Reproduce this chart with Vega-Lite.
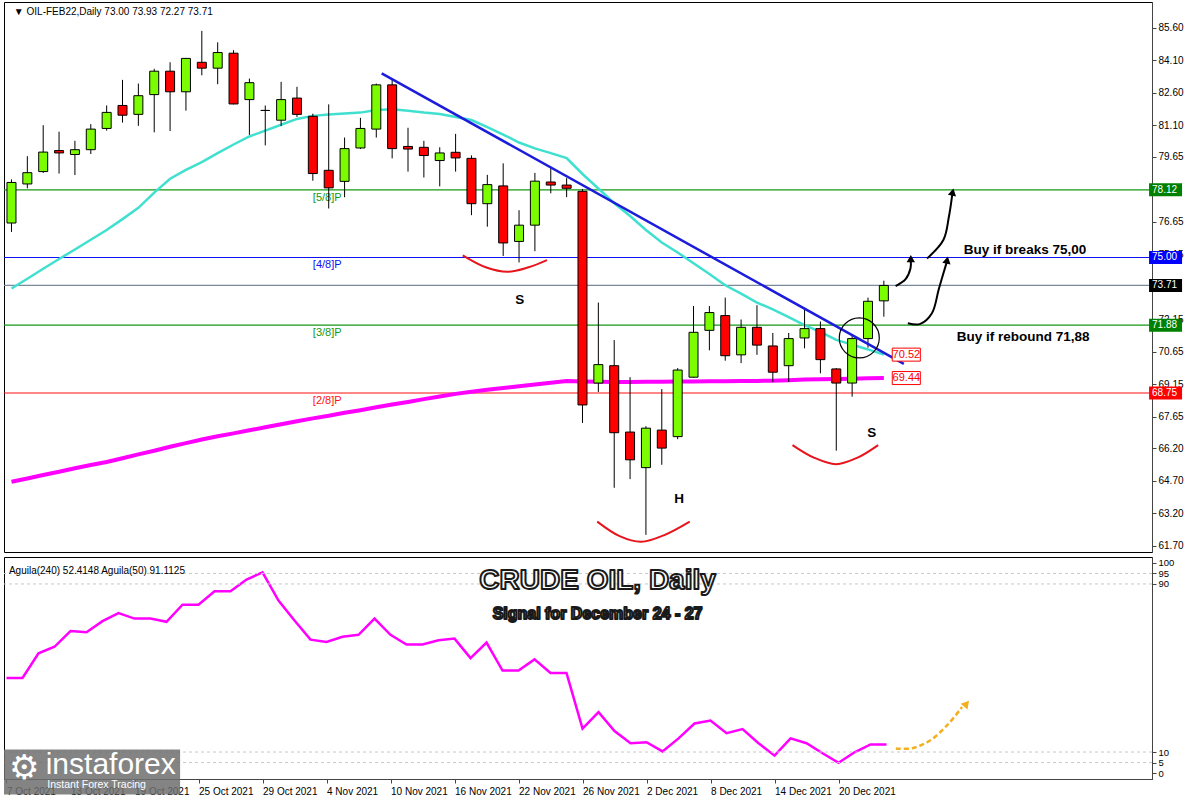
{
"$schema":"https://vega.github.io/schema/vega-lite/v6.json",
"background":"#ffffff",
"padding":{"left":0,"top":1,"right":0,"bottom":0},
"bounds":"flush",
"spacing":5,
"config":{"view":{"stroke":"#000000","strokeWidth":1},"axis":{"domainColor":"#444444","tickColor":"#444444","labelColor":"#000000","labelFont":"Liberation Sans","grid":false,"labelOverlap":false}},
"datasets":{
"c":[
{"n":0,"d":"2021-10-07","o":76.59,"h":78.6,"l":76.18,"c":78.46,"m21":73.57,"m200":64.66,"ag":45.3},
{"n":1,"d":"2021-10-08","o":78.39,"h":79.67,"l":78.19,"c":78.91,"m21":74.02,"m200":64.81,"ag":45.3},
{"n":2,"d":"2021-10-11","o":78.96,"h":81.1,"l":78.9,"c":79.86,"m21":74.48,"m200":64.97,"ag":57.0},
{"n":3,"d":"2021-10-12","o":79.93,"h":80.8,"l":78.87,"c":79.82,"m21":74.93,"m200":65.12,"ag":60.1},
{"n":4,"d":"2021-10-13","o":79.75,"h":80.38,"l":78.8,"c":79.97,"m21":75.37,"m200":65.28,"ag":67.6},
{"n":5,"d":"2021-10-14","o":79.97,"h":81.15,"l":79.77,"c":80.92,"m21":75.82,"m200":65.43,"ag":67.0},
{"n":6,"d":"2021-10-15","o":80.95,"h":82.01,"l":80.85,"c":81.69,"m21":76.27,"m200":65.57,"ag":72.3},
{"n":7,"d":"2021-10-18","o":82.01,"h":83.19,"l":81.22,"c":81.56,"m21":76.77,"m200":65.74,"ag":76.1},
{"n":8,"d":"2021-10-19","o":81.6,"h":83.02,"l":81.07,"c":82.46,"m21":77.29,"m200":65.92,"ag":73.5},
{"n":9,"d":"2021-10-20","o":82.51,"h":83.7,"l":80.77,"c":83.59,"m21":77.99,"m200":66.09,"ag":73.5},
{"n":10,"d":"2021-10-21","o":83.59,"h":84.0,"l":80.83,"c":82.64,"m21":78.63,"m200":66.27,"ag":72.0},
{"n":11,"d":"2021-10-22","o":82.64,"h":84.2,"l":81.77,"c":84.18,"m21":79.04,"m200":66.44,"ag":80.1},
{"n":12,"d":"2021-10-25","o":84.0,"h":85.45,"l":83.4,"c":83.73,"m21":79.4,"m200":66.61,"ag":80.1},
{"n":13,"d":"2021-10-26","o":83.73,"h":84.92,"l":82.99,"c":84.45,"m21":79.81,"m200":66.76,"ag":86.5},
{"n":14,"d":"2021-10-27","o":84.42,"h":84.56,"l":82.06,"c":82.08,"m21":80.21,"m200":66.89,"ag":86.5},
{"n":15,"d":"2021-10-28","o":82.28,"h":83.25,"l":80.65,"c":83.06,"m21":80.58,"m200":67.03,"ag":92.1},
{"n":16,"d":"2021-10-29","o":81.78,"h":82.01,"l":80.17,"c":81.78,"m21":80.85,"m200":67.17,"ag":95.5},
{"n":17,"d":"2021-11-01","o":81.33,"h":83.1,"l":81.06,"c":82.28,"m21":81.12,"m200":67.31,"ag":82.1},
{"n":18,"d":"2021-11-02","o":82.35,"h":82.87,"l":81.48,"c":81.6,"m21":81.39,"m200":67.45,"ag":72.6},
{"n":19,"d":"2021-11-03","o":81.51,"h":81.63,"l":78.54,"c":78.87,"m21":81.53,"m200":67.58,"ag":63.5},
{"n":20,"d":"2021-11-04","o":79.02,"h":82.06,"l":77.26,"c":78.21,"m21":81.59,"m200":67.7,"ag":62.4},
{"n":21,"d":"2021-11-05","o":78.51,"h":80.53,"l":77.78,"c":80.02,"m21":81.64,"m200":67.84,"ag":64.9},
{"n":22,"d":"2021-11-08","o":80.05,"h":81.44,"l":80.0,"c":80.95,"m21":81.68,"m200":67.96,"ag":65.8},
{"n":23,"d":"2021-11-09","o":80.92,"h":83.02,"l":80.53,"c":82.96,"m21":81.8,"m200":68.09,"ag":73.5},
{"n":24,"d":"2021-11-10","o":82.96,"h":83.25,"l":79.57,"c":80.02,"m21":81.83,"m200":68.22,"ag":65.8},
{"n":25,"d":"2021-11-11","o":80.12,"h":80.98,"l":78.96,"c":80.0,"m21":81.77,"m200":68.34,"ag":61.2},
{"n":26,"d":"2021-11-12","o":80.08,"h":80.38,"l":78.69,"c":79.7,"m21":81.68,"m200":68.47,"ag":61.2},
{"n":27,"d":"2021-11-15","o":79.47,"h":80.08,"l":78.28,"c":79.82,"m21":81.62,"m200":68.59,"ag":63.2},
{"n":28,"d":"2021-11-16","o":79.85,"h":80.7,"l":78.96,"c":79.59,"m21":81.48,"m200":68.71,"ag":64.0},
{"n":29,"d":"2021-11-17","o":79.57,"h":79.71,"l":76.95,"c":77.48,"m21":81.34,"m200":68.81,"ag":54.7},
{"n":30,"d":"2021-11-18","o":77.48,"h":78.81,"l":76.42,"c":78.36,"m21":81.01,"m200":68.9,"ag":62.1},
{"n":31,"d":"2021-11-19","o":78.3,"h":79.34,"l":75.07,"c":75.67,"m21":80.67,"m200":68.98,"ag":48.8},
{"n":32,"d":"2021-11-22","o":75.74,"h":77.18,"l":74.77,"c":76.49,"m21":80.3,"m200":69.06,"ag":48.8},
{"n":33,"d":"2021-11-23","o":76.49,"h":78.9,"l":75.29,"c":78.52,"m21":80.03,"m200":69.14,"ag":54.1},
{"n":34,"d":"2021-11-24","o":78.48,"h":79.19,"l":77.96,"c":78.34,"m21":79.81,"m200":69.22,"ag":47.6},
{"n":35,"d":"2021-11-25","o":78.34,"h":78.66,"l":77.78,"c":78.19,"m21":79.58,"m200":69.3,"ag":47.6},
{"n":36,"d":"2021-11-26","o":78.05,"h":78.16,"l":67.37,"c":68.2,"m21":78.85,"m200":69.28,"ag":21.2},
{"n":37,"d":"2021-11-29","o":69.21,"h":72.92,"l":68.8,"c":70.06,"m21":78.18,"m200":69.27,"ag":29.0},
{"n":38,"d":"2021-11-30","o":70.01,"h":71.19,"l":64.38,"c":66.92,"m21":77.5,"m200":69.26,"ag":20.0},
{"n":39,"d":"2021-12-01","o":66.95,"h":69.48,"l":64.78,"c":65.67,"m21":76.91,"m200":69.26,"ag":14.2},
{"n":40,"d":"2021-12-02","o":65.31,"h":67.22,"l":62.21,"c":67.13,"m21":76.27,"m200":69.27,"ag":14.7},
{"n":41,"d":"2021-12-03","o":67.04,"h":68.93,"l":65.44,"c":66.21,"m21":75.69,"m200":69.27,"ag":10.3},
{"n":42,"d":"2021-12-06","o":66.74,"h":69.9,"l":66.62,"c":69.81,"m21":75.23,"m200":69.28,"ag":16.5},
{"n":43,"d":"2021-12-07","o":69.48,"h":72.76,"l":69.45,"c":71.55,"m21":74.73,"m200":69.28,"ag":23.6},
{"n":44,"d":"2021-12-08","o":71.64,"h":72.76,"l":70.72,"c":72.46,"m21":74.24,"m200":69.29,"ag":25.0},
{"n":45,"d":"2021-12-09","o":72.32,"h":73.15,"l":70.24,"c":70.47,"m21":73.72,"m200":69.29,"ag":19.0},
{"n":46,"d":"2021-12-10","o":70.51,"h":72.14,"l":70.13,"c":71.78,"m21":73.33,"m200":69.3,"ag":20.9},
{"n":47,"d":"2021-12-13","o":71.78,"h":72.8,"l":70.51,"c":70.96,"m21":72.92,"m200":69.31,"ag":14.2},
{"n":48,"d":"2021-12-14","o":70.92,"h":71.52,"l":69.26,"c":69.71,"m21":72.61,"m200":69.32,"ag":8.3},
{"n":49,"d":"2021-12-15","o":70.01,"h":71.52,"l":69.26,"c":71.26,"m21":72.25,"m200":69.34,"ag":16.5},
{"n":50,"d":"2021-12-16","o":71.29,"h":72.68,"l":70.81,"c":71.72,"m21":71.88,"m200":69.37,"ag":14.2},
{"n":51,"d":"2021-12-17","o":71.72,"h":72.05,"l":69.66,"c":70.29,"m21":71.57,"m200":69.38,"ag":9.4},
{"n":52,"d":"2021-12-20","o":69.86,"h":69.9,"l":66.09,"c":69.21,"m21":71.2,"m200":69.4,"ag":4.9},
{"n":53,"d":"2021-12-21","o":69.21,"h":71.4,"l":68.58,"c":71.26,"m21":70.98,"m200":69.41,"ag":9.9},
{"n":54,"d":"2021-12-22","o":71.26,"h":73.15,"l":70.84,"c":72.98,"m21":70.76,"m200":69.43,"ag":13.6},
{"n":55,"d":"2021-12-23","o":73.0,"h":73.93,"l":72.27,"c":73.71,"m21":70.52,"m200":69.44,"ag":13.6}
],
"lv":[
{"lv":78.12,"k":"78.12","lab":"[5/8]P"},
{"lv":75.0,"k":"75.00","lab":"[4/8]P"},
{"lv":73.71,"k":"73.71","lab":""},
{"lv":71.88,"k":"71.88","lab":"[3/8]P"},
{"lv":68.75,"k":"68.75","lab":"[2/8]P"}
],
"tr":[{"n":23.34,"p":83.49},{"n":56.26,"p":70.09}],
"ar":[
{"id":"a1","k":0,"n":55.74,"p":73.68},{"id":"a1","k":1,"n":56.37,"p":74.0},{"id":"a1","k":2,"n":56.68,"p":74.5},{"id":"a1","k":3,"n":56.7,"p":74.85},
{"id":"a2","k":0,"n":57.72,"p":74.95},{"id":"a2","k":1,"n":58.76,"p":75.82},{"id":"a2","k":2,"n":59.1,"p":76.88},{"id":"a2","k":3,"n":59.32,"p":77.95},
{"id":"a3","k":0,"n":56.51,"p":71.97},{"id":"a3","k":1,"n":57.3,"p":71.94},{"id":"a3","k":2,"n":58.03,"p":72.43},{"id":"a3","k":3,"n":58.47,"p":73.56},{"id":"a3","k":4,"n":58.95,"p":74.75}
],
"hd":[{"id":"a1","n":56.7,"p":74.95},{"id":"a2","n":59.34,"p":78.02},{"id":"a3","n":58.99,"p":74.88}],
"sm":[
{"id":"s1","k":0,"n":28.45,"p":75.1},{"id":"s1","k":1,"n":29.9,"p":74.55},{"id":"s1","k":2,"n":31.26,"p":74.34},{"id":"s1","k":3,"n":32.6,"p":74.55},{"id":"s1","k":4,"n":33.76,"p":74.88},
{"id":"s2","k":0,"n":36.93,"p":62.82},{"id":"s2","k":1,"n":38.34,"p":62.15},{"id":"s2","k":2,"n":39.7,"p":61.89},{"id":"s2","k":3,"n":41.16,"p":62.2},{"id":"s2","k":4,"n":42.76,"p":62.82},
{"id":"s3","k":0,"n":49.24,"p":66.35},{"id":"s3","k":1,"n":50.59,"p":65.77},{"id":"s3","k":2,"n":51.99,"p":65.47},{"id":"s3","k":3,"n":53.34,"p":65.77},{"id":"s3","k":4,"n":54.64,"p":66.35}
],
"nt":[
{"n":32.05,"p":73.03,"t":"S"},{"n":42.09,"p":63.86,"t":"H"},{"n":54.24,"p":66.92,"t":"S"},
{"n":63.9,"p":75.34,"t":"Buy if breaks 75,00"},{"n":63.78,"p":71.33,"t":"Buy if rebound 71,88"}
],
"vt":[{"p":70.52,"t":"70.52"},{"p":69.44,"t":"69.44"}],
"gl":[{"g":5},{"g":10},{"g":90},{"g":95}],
"oa":[{"k":0,"n":55.58,"v":11.7},{"k":1,"n":56.59,"v":11.8},{"k":2,"n":57.72,"v":15.5},{"k":3,"n":58.84,"v":23.2},{"k":4,"n":59.72,"v":31.4}],
"tt":[{"t":"CRUDE OIL, Daily","v":91.4},{"t":"Signal for December  24 - 27","v":75.5}]
},
"vconcat":[
{
"width":1148,"height":550,
"layer":[
{"data":{"name":"lv"},"mark":{"type":"rule","strokeWidth":1.2},
 "encoding":{"y":{"field":"lv","type":"quantitative","scale":{"domain":[61.65,86.55],"nice":false,"zero":false},
  "axis":{"orient":"right","values":[85.6,84.1,82.6,81.1,79.65,76.65,75.15,72.15,70.65,69.15,67.65,66.2,64.7,63.2,61.7],"tickCount":40,"format":".2f","title":null,"tickSize":4,"labelFontSize":10,"labelPadding":2,"labelOverlap":false,"labelFlush":false,"labelBound":false,"grid":false}},
 "stroke":{"field":"k","type":"nominal","scale":{"domain":["78.12","75.00","73.71","71.88","68.75"],"range":["#139a13","#1010f0","#7a8a9a","#139a13","#ff1010"]},"legend":null}}},
{"data":{"name":"lv"},"transform":[{"filter":"datum.lab != ''"}],"mark":{"type":"text","align":"left","baseline":"top","dy":2,"fontSize":11,"font":"Liberation Sans"},
 "encoding":{"x":{"datum":19.0,"type":"quantitative","scale":{"domain":[-0.156,71.59],"nice":false,"zero":false},"axis":null},
 "y":{"field":"lv","type":"quantitative","scale":{"domain":[61.65,86.55],"nice":false,"zero":false}},
 "text":{"field":"lab"},
 "color":{"field":"k","type":"nominal","scale":{"domain":["78.12","75.00","71.88","68.75"],"range":["#139a13","#1010f0","#139a13","#ff1010"]},"legend":null}}},
{"data":{"name":"c"},"mark":{"type":"line","color":"#ff00ff","strokeWidth":4,"clip":true},
 "encoding":{"x":{"field":"n","type":"quantitative","scale":{"domain":[-0.156,71.59],"nice":false,"zero":false},"axis":null},
 "y":{"field":"m200","type":"quantitative","scale":{"domain":[61.65,86.55],"nice":false,"zero":false}}}},
{"data":{"name":"c"},"mark":{"type":"line","color":"#40e0d0","strokeWidth":2.5,"clip":true},
 "encoding":{"x":{"field":"n","type":"quantitative","scale":{"domain":[-0.156,71.59],"nice":false,"zero":false},"axis":null},
 "y":{"field":"m21","type":"quantitative","scale":{"domain":[61.65,86.55],"nice":false,"zero":false}}}},
{"data":{"name":"c"},"mark":{"type":"rule","color":"#000000","strokeWidth":1,"clip":true},
 "encoding":{"x":{"field":"n","type":"quantitative","scale":{"domain":[-0.156,71.59],"nice":false,"zero":false},"axis":null},
 "y":{"field":"l","type":"quantitative","scale":{"domain":[61.65,86.55],"nice":false,"zero":false}},
 "y2":{"field":"h"}}},
{"data":{"name":"c"},"mark":{"type":"bar","size":9,"stroke":"#000000","strokeWidth":1,"clip":true},
 "encoding":{"x":{"field":"n","type":"quantitative","scale":{"domain":[-0.156,71.59],"nice":false,"zero":false},"axis":null},
 "y":{"field":"o","type":"quantitative","scale":{"domain":[61.65,86.55],"nice":false,"zero":false}},
 "y2":{"field":"c"},
 "fill":{"condition":{"test":"datum.c >= datum.o","value":"#7cfc00"},"value":"#ff0000"}}},
{"data":{"name":"tr"},"mark":{"type":"line","color":"#1c1cdc","strokeWidth":2.5},
 "encoding":{"x":{"field":"n","type":"quantitative","scale":{"domain":[-0.156,71.59],"nice":false,"zero":false},"axis":null},
 "y":{"field":"p","type":"quantitative","scale":{"domain":[61.65,86.55],"nice":false,"zero":false}}}},
{"data":{"name":"sm"},"mark":{"type":"line","color":"#e8141c","strokeWidth":2,"interpolate":"catmull-rom"},
 "encoding":{"x":{"field":"n","type":"quantitative","scale":{"domain":[-0.156,71.59],"nice":false,"zero":false},"axis":null},
 "y":{"field":"p","type":"quantitative","scale":{"domain":[61.65,86.55],"nice":false,"zero":false}},
 "detail":{"field":"id"},"order":{"field":"k","type":"quantitative"}}},
{"data":{"name":"ar"},"mark":{"type":"line","color":"#000000","strokeWidth":2,"interpolate":"catmull-rom"},
 "encoding":{"x":{"field":"n","type":"quantitative","scale":{"domain":[-0.156,71.59],"nice":false,"zero":false},"axis":null},
 "y":{"field":"p","type":"quantitative","scale":{"domain":[61.65,86.55],"nice":false,"zero":false}},
 "detail":{"field":"id"},"order":{"field":"k","type":"quantitative"}}},
{"data":{"name":"hd"},"transform":[{"filter":"datum.id == 'a1'"}],"mark":{"type":"point","shape":"triangle-up","filled":true,"color":"#000000","size":70,"opacity":1},
 "encoding":{"x":{"field":"n","type":"quantitative","scale":{"domain":[-0.156,71.59],"nice":false,"zero":false},"axis":null},
 "y":{"field":"p","type":"quantitative","scale":{"domain":[61.65,86.55],"nice":false,"zero":false}}}},
{"data":{"name":"hd"},"transform":[{"filter":"datum.id != 'a1'"}],"mark":{"type":"point","shape":"triangle-up","filled":true,"color":"#000000","size":70,"angle":12,"opacity":1},
 "encoding":{"x":{"field":"n","type":"quantitative","scale":{"domain":[-0.156,71.59],"nice":false,"zero":false},"axis":null},
 "y":{"field":"p","type":"quantitative","scale":{"domain":[61.65,86.55],"nice":false,"zero":false}}}},
{"data":{"values":[{"n":53.45,"p":71.29}]},"mark":{"type":"point","shape":"circle","filled":false,"color":"#000000","size":1600,"strokeWidth":1.2,"opacity":1},
 "encoding":{"x":{"field":"n","type":"quantitative","scale":{"domain":[-0.156,71.59],"nice":false,"zero":false},"axis":null},
 "y":{"field":"p","type":"quantitative","scale":{"domain":[61.65,86.55],"nice":false,"zero":false}}}},
{"data":{"name":"nt"},"mark":{"type":"text","font":"Liberation Sans","fontWeight":"bold","fontSize":13.5,"color":"#000000","align":"center","baseline":"middle"},
 "encoding":{"x":{"field":"n","type":"quantitative","scale":{"domain":[-0.156,71.59],"nice":false,"zero":false},"axis":null},
 "y":{"field":"p","type":"quantitative","scale":{"domain":[61.65,86.55],"nice":false,"zero":false}},
 "text":{"field":"t"}}},
{"data":{"name":"vt"},"mark":{"type":"bar","orient":"horizontal","size":13,"fill":"#ffffff","stroke":"#ff0000","strokeWidth":1},
 "encoding":{"x":{"datum":55.53,"type":"quantitative","scale":{"domain":[-0.156,71.59],"nice":false,"zero":false},"axis":null},
 "x2":{"datum":57.3},
 "y":{"field":"p","type":"quantitative","scale":{"domain":[61.65,86.55],"nice":false,"zero":false}}}},
{"data":{"name":"vt"},"mark":{"type":"text","align":"center","baseline":"middle","color":"#ff0000","fontSize":11,"font":"Liberation Sans"},
 "encoding":{"x":{"datum":56.42,"type":"quantitative","scale":{"domain":[-0.156,71.59],"nice":false,"zero":false},"axis":null},
 "y":{"field":"p","type":"quantitative","scale":{"domain":[61.65,86.55],"nice":false,"zero":false}},
 "text":{"field":"t"}}},
{"data":{"name":"lv"},"mark":{"type":"bar","orient":"horizontal","size":13,"clip":false},
 "encoding":{"x":{"datum":71.72,"type":"quantitative","scale":{"domain":[-0.156,71.59],"nice":false,"zero":false},"axis":null},
 "x2":{"datum":73.8},
 "y":{"field":"lv","type":"quantitative","scale":{"domain":[61.65,86.55],"nice":false,"zero":false}},
 "fill":{"field":"k","type":"nominal","scale":{"domain":["78.12","75.00","73.71","71.88","68.75"],"range":["#008000","#0000ff","#000000","#008000","#ff0000"]},"legend":null}}},
{"data":{"name":"lv"},"mark":{"type":"text","align":"left","baseline":"middle","dx":3,"color":"#ffffff","fontSize":10,"font":"Liberation Sans","clip":false},
 "encoding":{"x":{"datum":71.72,"type":"quantitative","scale":{"domain":[-0.156,71.59],"nice":false,"zero":false},"axis":null},
 "y":{"field":"lv","type":"quantitative","scale":{"domain":[61.65,86.55],"nice":false,"zero":false}},
 "text":{"field":"k"}}},
{"data":{"values":[{"t":"▼ OIL-FEB22,Daily  73.00 73.93 72.27 73.71"}]},"mark":{"type":"text","align":"left","baseline":"top","color":"#000000","fontSize":10,"font":"Liberation Sans"},
 "encoding":{"x":{"datum":0.15,"type":"quantitative","scale":{"domain":[-0.156,71.59],"nice":false,"zero":false},"axis":null},
 "y":{"datum":86.53,"type":"quantitative","scale":{"domain":[61.65,86.55],"nice":false,"zero":false}},
 "text":{"field":"t"}}}
]
},
{
"width":1148,"height":222,
"layer":[
{"data":{"name":"c"},"mark":{"type":"line","color":"#ff00ff","strokeWidth":2.5},
 "encoding":{"x":{"field":"n","type":"quantitative","scale":{"domain":[-0.156,71.59],"nice":false,"zero":false},
  "axis":{"values":[0,4,8,12,16,20,24,28,32,36,40,44,48,52],"tickCount":40,"labelExpr":"['7 Oct 2021','13 Oct 2021','19 Oct 2021','25 Oct 2021','29 Oct 2021','4 Nov 2021','10 Nov 2021','16 Nov 2021','22 Nov 2021','26 Nov 2021','2 Dec 2021','8 Dec 2021','14 Dec 2021','20 Dec 2021'][datum.value / 4]","labelAlign":"left","labelPadding":3,"tickSize":4,"title":null,"labelFontSize":10,"labelOverlap":false,"labelFlush":false,"labelBound":false,"grid":false}},
 "y":{"field":"ag","type":"quantitative","scale":{"domain":[-0.45,100.45],"nice":false,"zero":false},
  "axis":{"orient":"right","values":[0,5,10,90,95,100],"tickCount":20,"format":"d","title":null,"tickSize":4,"labelFontSize":9.5,"labelPadding":2,"labelOverlap":false,"labelFlush":false,"labelBound":false,"grid":false}}}},
{"data":{"name":"gl"},"mark":{"type":"rule","color":"#c8c8c8","strokeWidth":1,"strokeDash":[3,3]},
 "encoding":{"y":{"field":"g","type":"quantitative","scale":{"domain":[-0.45,100.45],"nice":false,"zero":false}}}},
{"data":{"name":"oa"},"mark":{"type":"line","color":"#f2b01e","strokeWidth":2.5,"strokeDash":[5,3],"interpolate":"catmull-rom"},
 "encoding":{"x":{"field":"n","type":"quantitative","scale":{"domain":[-0.156,71.59],"nice":false,"zero":false}},
 "y":{"field":"v","type":"quantitative","scale":{"domain":[-0.45,100.45],"nice":false,"zero":false}},
 "order":{"field":"k","type":"quantitative"}}},
{"data":{"values":[{"n":60.0,"v":33.0}]},"mark":{"type":"point","shape":"triangle-up","filled":true,"color":"#f2b01e","size":80,"angle":40,"opacity":1},
 "encoding":{"x":{"field":"n","type":"quantitative","scale":{"domain":[-0.156,71.59],"nice":false,"zero":false}},
 "y":{"field":"v","type":"quantitative","scale":{"domain":[-0.45,100.45],"nice":false,"zero":false}}}},
{"data":{"name":"tt"},"mark":{"type":"text","align":"center","baseline":"middle","font":"Liberation Sans","fontWeight":"bold","color":"#ffffff","stroke":"#1a1a1a","strokeWidth":2,"strokeJoin":"round"},
 "encoding":{"x":{"datum":36.94,"type":"quantitative","scale":{"domain":[-0.156,71.59],"nice":false,"zero":false}},
 "y":{"field":"v","type":"quantitative","scale":{"domain":[-0.45,100.45],"nice":false,"zero":false}},
 "text":{"field":"t"},
 "size":{"condition":{"test":"datum.t == 'CRUDE OIL, Daily'","value":28},"value":16}}},
{"data":{"values":[{"t":"Aguila(240) 52.4148  Aguila(50) 91.1125"}]},"mark":{"type":"text","align":"left","baseline":"middle","color":"#000000","fontSize":10,"font":"Liberation Sans"},
 "encoding":{"x":{"datum":0.15,"type":"quantitative","scale":{"domain":[-0.156,71.59],"nice":false,"zero":false}},
 "y":{"datum":96.3,"type":"quantitative","scale":{"domain":[-0.45,100.45],"nice":false,"zero":false}},
 "text":{"field":"t"}}},
{"data":{"values":[{"t":"logo"}]},"mark":{"type":"bar","orient":"horizontal","color":"#6e6e6e","opacity":0.85,"size":45,"clip":false},
 "encoding":{"x":{"datum":-0.156,"type":"quantitative","scale":{"domain":[-0.156,71.59],"nice":false,"zero":false}},
 "x2":{"datum":10.85},
 "y":{"datum":0.5,"type":"quantitative","scale":{"domain":[-0.45,100.45],"nice":false,"zero":false}}}},
{"data":{"values":[{"t":"⚙"}]},"mark":{"type":"text","align":"left","baseline":"middle","color":"#ffffff","fontSize":34,"font":"DejaVu Sans","clip":false},
 "encoding":{"x":{"datum":0.15,"type":"quantitative","scale":{"domain":[-0.156,71.59],"nice":false,"zero":false}},
 "y":{"datum":2.0,"type":"quantitative","scale":{"domain":[-0.45,100.45],"nice":false,"zero":false}},
 "text":{"field":"t"}}},
{"data":{"values":[{"t":"instaforex"}]},"mark":{"type":"text","align":"left","baseline":"middle","color":"#ffffff","fontSize":30,"font":"Liberation Sans","clip":false},
 "encoding":{"x":{"datum":2.45,"type":"quantitative","scale":{"domain":[-0.156,71.59],"nice":false,"zero":false}},
 "y":{"datum":3.6,"type":"quantitative","scale":{"domain":[-0.45,100.45],"nice":false,"zero":false}},
 "text":{"field":"t"}}},
{"data":{"values":[{"t":"Instant Forex Tracing"}]},"mark":{"type":"text","align":"left","baseline":"middle","color":"#ffffff","fontSize":10.5,"font":"Liberation Sans","clip":false},
 "encoding":{"x":{"datum":2.55,"type":"quantitative","scale":{"domain":[-0.156,71.59],"nice":false,"zero":false}},
 "y":{"datum":-5.9,"type":"quantitative","scale":{"domain":[-0.45,100.45],"nice":false,"zero":false}},
 "text":{"field":"t"}}}
]
}
]
}
